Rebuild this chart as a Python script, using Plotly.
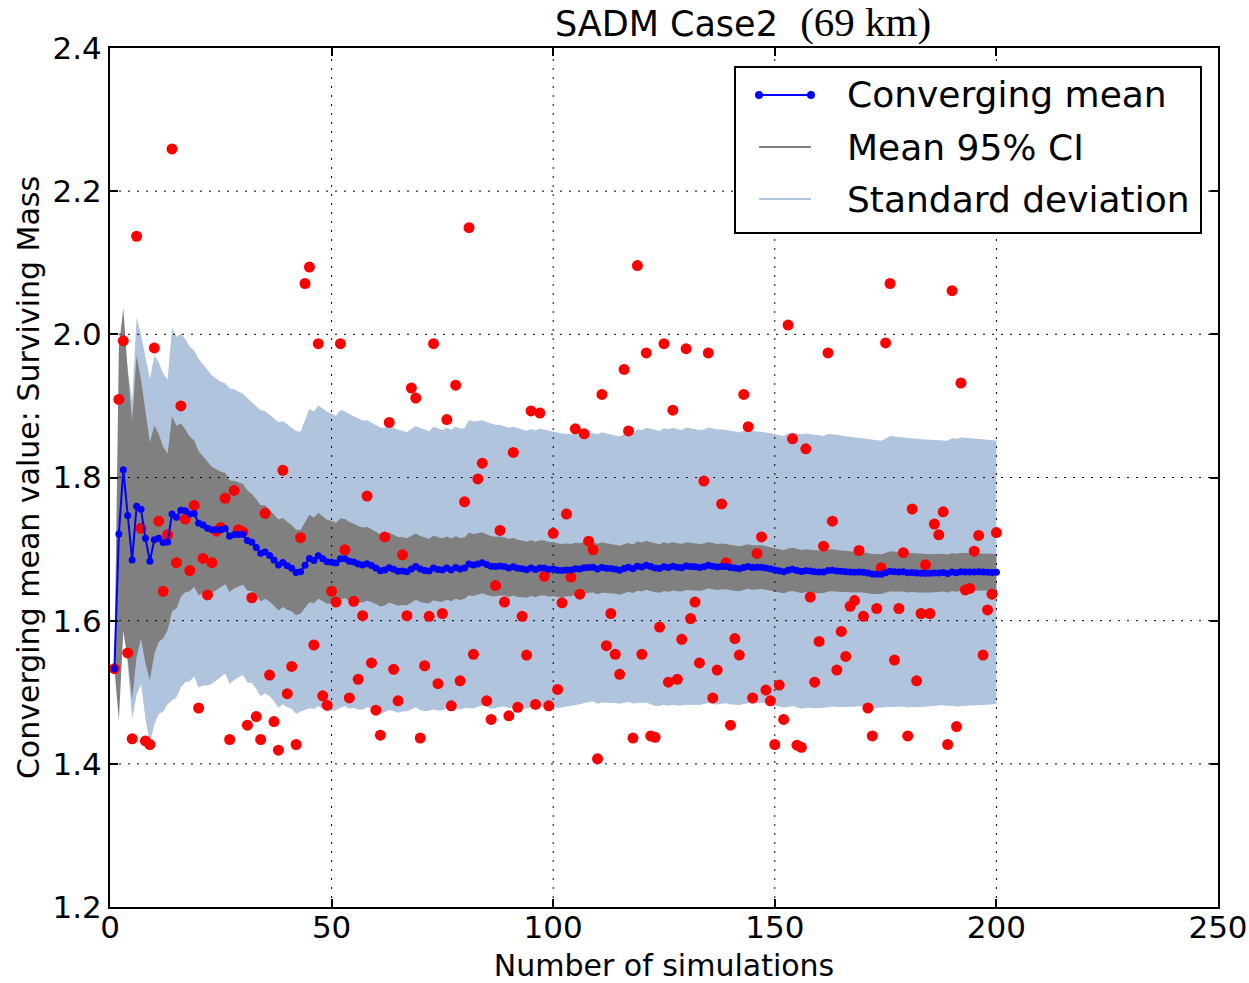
import numpy as np
import plotly.graph_objects as go

# ---- data ----
sim_values = [
    1.533, 1.909, 1.991, 1.555, 1.435, 2.137, 1.729, 1.432, 1.427, 1.981,
    1.739, 1.641, 1.720, 2.259, 1.681, 1.900, 1.742, 1.670, 1.761, 1.478,
    1.687, 1.636, 1.681, 1.725, 1.730, 1.771, 1.434, 1.782, 1.727, 1.724,
    1.454, 1.632, 1.466, 1.434, 1.750, 1.524, 1.459, 1.419, 1.810, 1.498,
    1.536, 1.427, 1.716, 2.071, 2.094, 1.566, 1.987, 1.495, 1.482, 1.641,
    1.626, 1.987, 1.699, 1.492, 1.627, 1.518, 1.607, 1.774, 1.541, 1.475,
    1.440, 1.717, 1.877, 1.532, 1.488, 1.692, 1.607, 1.925, 1.911, 1.436,
    1.537, 1.606, 1.987, 1.512, 1.610, 1.881, 1.481, 1.929, 1.516, 1.766,
    2.149, 1.553, 1.798, 1.820, 1.488, 1.462, 1.649, 1.726, 1.626, 1.467,
    1.835, 1.479, 1.606, 1.552, 1.893, 1.483, 1.890, 1.662, 1.481, 1.722,
    1.504, 1.625, 1.749, 1.661, 1.868, 1.637, 1.861, 1.711, 1.699, 1.407,
    1.916, 1.565, 1.610, 1.553, 1.525, 1.951, 1.865, 1.436, 2.096, 1.553,
    1.974, 1.439, 1.437, 1.591, 1.987, 1.514, 1.894, 1.518, 1.574, 1.980,
    1.603, 1.626, 1.541, 1.795, 1.974, 1.492, 1.531, 1.763, 1.681, 1.454,
    1.575, 1.552, 1.916, 1.871, 1.492, 1.694, 1.717, 1.503, 1.488, 1.427,
    1.510, 1.462, 2.013, 1.854, 1.426, 1.423, 1.840, 1.633, 1.514, 1.571,
    1.704, 1.974, 1.739, 1.531, 1.585, 1.550, 1.620, 1.628, 1.698, 1.606,
    1.478, 1.439, 1.617, 1.674, 1.988, 2.071, 1.545, 1.617, 1.695, 1.439,
    1.756, 1.516, 1.610, 1.678, 1.610, 1.735, 1.720, 1.752, 1.427, 2.061,
    1.452, 1.932, 1.643, 1.645, 1.697, 1.719, 1.552, 1.615, 1.637, 1.723,
]
n_sims = list(range(1, len(sim_values) + 1))

x_ticks = [0, 50, 100, 150, 200, 250]
y_ticks = [1.2, 1.4, 1.6, 1.8, 2.0, 2.2, 2.4]
y_tick_labels = ["1.2", "1.4", "1.6", "1.8", "2.0", "2.2", "2.4"]

legend_labels = ["Converging mean", "Mean 95% CI", "Standard deviation"]

# ---- derived statistics (cumulative) ----
vals = np.array(sim_values)
n = np.array(n_sims, dtype=float)
cum_mean = np.cumsum(vals) / n
cum_sq = np.cumsum(vals ** 2) / n
cum_std = np.sqrt(np.maximum(cum_sq - cum_mean ** 2, 0.0))
ci = 1.96 * cum_std / np.sqrt(n)

STD_COLOR = "#b0c4de"
CI_COLOR = "#808080"
FONT = "DejaVu Sans"

fig = go.Figure()

# standard deviation band
fig.add_trace(go.Scatter(x=n_sims, y=cum_mean - cum_std, mode="lines",
                         line=dict(width=0, color=STD_COLOR), showlegend=False, hoverinfo="skip"))
fig.add_trace(go.Scatter(x=n_sims, y=cum_mean + cum_std, mode="lines", fill="tonexty",
                         fillcolor=STD_COLOR, line=dict(width=0, color=STD_COLOR),
                         showlegend=False, hoverinfo="skip"))
# 95% CI band
fig.add_trace(go.Scatter(x=n_sims, y=cum_mean - ci, mode="lines",
                         line=dict(width=0, color=CI_COLOR), showlegend=False, hoverinfo="skip"))
fig.add_trace(go.Scatter(x=n_sims, y=cum_mean + ci, mode="lines", fill="tonexty",
                         fillcolor=CI_COLOR, line=dict(width=0, color=CI_COLOR),
                         showlegend=False, hoverinfo="skip"))

# dotted grid drawn above the bands
gx, gy = [], []
for xv in x_ticks[1:-1]:
    gx += [xv, xv, None]
    gy += [y_ticks[0], y_ticks[-1], None]
for yv in y_ticks[1:-1]:
    gx += [x_ticks[0], x_ticks[-1], None]
    gy += [yv, yv, None]
fig.add_trace(go.Scatter(x=gx, y=gy, mode="lines",
                         line=dict(color="black", width=1, dash="2px,7px"),
                         showlegend=False, hoverinfo="skip"))

# individual simulations
fig.add_trace(go.Scatter(x=n_sims, y=sim_values, mode="markers",
                         marker=dict(color="#ff0000", size=11, line=dict(width=0)),
                         showlegend=False))
# converging mean
fig.add_trace(go.Scatter(x=n_sims, y=cum_mean, mode="lines+markers",
                         line=dict(color="#0000ff", width=2),
                         marker=dict(color="#0000ff", size=7, line=dict(width=0)),
                         showlegend=False))

# ---- manual legend (matplotlib style) ----
L, R, T, B = 110, 1218, 48, 907
W, H = R - L, B - T
def px(xp):
    return (xp - L) / W
def py(yp):
    return (B - yp) / H

shapes = [dict(type="rect", xref="paper", yref="paper",
               x0=px(735), x1=px(1201), y0=py(233), y1=py(67),
               line=dict(color="black", width=2), fillcolor="white", layer="above")]
entry_y = [95, 147, 199]
entry_colors = ["#0000ff", CI_COLOR, STD_COLOR]
for yy, col in zip(entry_y, entry_colors):
    shapes.append(dict(type="line", xref="paper", yref="paper",
                       x0=px(759), x1=px(811), y0=py(yy), y1=py(yy),
                       line=dict(color=col, width=2), layer="above"))
for xx in (759, 811):
    shapes.append(dict(type="circle", xref="paper", yref="paper",
                       x0=px(xx - 4), x1=px(xx + 4), y0=py(entry_y[0] + 4), y1=py(entry_y[0] - 4),
                       line=dict(color="#0000ff", width=0), fillcolor="#0000ff", layer="above"))

annotations = []
for yy, lab in zip(entry_y, legend_labels):
    annotations.append(dict(xref="paper", yref="paper", x=px(845), y=py(yy),
                            xanchor="left", yanchor="middle", text=lab, showarrow=False,
                            font=dict(family=FONT, size=36, color="black")))

axis_common = dict(showgrid=False, zeroline=False, showline=True, linecolor="black",
                   linewidth=2, mirror="allticks", ticks="inside", ticklen=8,
                   tickwidth=1.5, tickcolor="black", automargin=False,
                   tickfont=dict(family=FONT, size=31, color="black"))

fig.update_layout(
    width=1249, height=983,
    margin=dict(l=L, r=1249 - R, t=T, b=983 - B),
    paper_bgcolor="white", plot_bgcolor="white",
    showlegend=False,
    title=dict(text="SADM Case2  <span style=\"font-family:Liberation Serif;font-size:41px\">(69 km)</span>",
               x=743 / 1249, xanchor="center", xref="container",
               y=1 - 24 / 983, yanchor="middle", yref="container",
               font=dict(family=FONT, size=35, color="black")),
    xaxis=dict(range=[x_ticks[0], x_ticks[-1]], tickvals=x_ticks, ticklabelstandoff=-8,
               title=dict(text="Number of simulations", font=dict(family=FONT, size=30, color="black"),
                          standoff=16),
               **axis_common),
    yaxis=dict(range=[y_ticks[0], y_ticks[-1]], tickvals=y_ticks, ticktext=y_tick_labels,
               title=dict(text="Converging mean value: Surviving Mass",
                          font=dict(family=FONT, size=30, color="black"), standoff=4),
               **axis_common),
    shapes=shapes,
    annotations=annotations,
)

fig.write_html("out.html")
